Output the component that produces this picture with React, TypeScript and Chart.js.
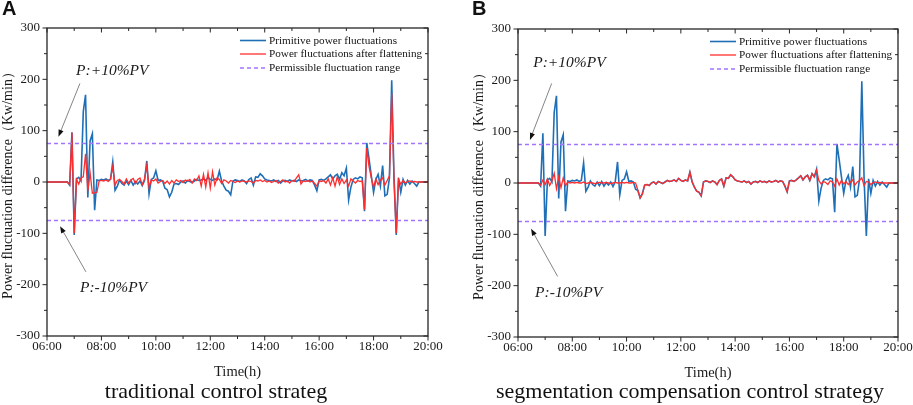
import { useEffect, useRef } from 'react';
import { Chart, registerables } from 'chart.js';

Chart.register(...registerables);

const SERIF = '"Liberation Serif", "Times New Roman", serif';
const SANS = '"Liberation Sans", Arial, sans-serif';
const AXIS = '#262626';
const BLUE = '#1f6fb6';
const RED = '#ff2d2d';
const VIOLET = '#a273ff';

// one sample every 5 min, 06:00 .. 20:00 (12 values per row = one hour)
const START_HOUR = 6;
const STEP_MIN = 5;

// primitive power fluctuation (Kw/min) - same in both panels
const primitive = [
  0, 0, 0, 0, 0, 0, 0, 0, 0, 0, -6, 97,
  -103, 6, 9, 2, 137, 170, -30, 80, 94, -55, 4, 3,
  5, 4, 6, 3, 5, 39, -16, -8, 4, -3, -6, 2,
  -5, 3, -6, 1, -4, 2, -7, 3, 41, -23, 5, 8,
  22, 3, 4, 2, -12, -15, -29, -20, -4, -3, -5, 0,
  2, -2, 3, 1, -1, 2, 5, 3, 4, 6, 3, 9,
  5, 3, 6, 4, 21, 2, -8, -16, -18, -25, 2, 4,
  3, 1, 4, 2, -3, 5, 8, -6, 10, 9, 16, 12,
  6, 4, 3, 2, 4, 1, 3, -2, 2, 3, 1, 4,
  2, 3, 1, 4, 2, 3, 5, 2, 4, 3, -6, -17,
  4, 5, 3, 6, 10, 14, 6, 12, 15, 5, 18, 12,
  27, -35, -10, 5, 8, 6, 10, 8, -57, 76, 45, 12,
  -20, 5, 15, -8, 32, -27, -24, 8, 198, 10, -103, 8,
  -20, 5, -6, 3, -4, 2, -3, -8, 0, 0, 0, 0,
  0,
];

// after flattening, traditional control strategy
const flatTraditional = [
  0, 0, 0, 0, 0, 0, 0, 0, 0, 0, -5, 96,
  -100, 5, -4, 8, 10, 55, -18, 18, -22, -21, -20, 2,
  3, 2, 4, 1, 6, 30, -6, 3, 5, 1, -4, 6,
  -2, 4, 7, -3, 5, 8, -5, 6, 32, -10, 4, 2,
  6, -2, 1, 3, -3, 2, -4, 3, -2, 4, 1, 3,
  -1, 4, 2, 5, -2, 6, 3, 12, -8, 15, -10, 18,
  -12, 20, -6, 8, 5, -3, 4, 2, -2, 3, 1, -1,
  2, 0, 2, 1, 0, 2, 1, -2, 3, 2, 4, 1,
  3, 0, 2, -1, 1, 3, -2, 1, 4, 0, 2, -2,
  3, 1, 8, 14, -4, 2, 1, 3, 0, 2, -3, -8,
  2, 1, 3, -2, 6, -6, 8, -8, 10, -5, 6, -3,
  4, -8, 6, 2, -2, 3, 1, 2, -54, 66, 30, 8,
  -10, 6, -5, 4, 8, -6, 3, 12, 172, 5, -100, 5,
  -4, 3, -2, 1, 2, 0, 1, 0, 0, 0, 0, 0,
  0,
];

// after flattening, segmentation compensation control strategy
const flatSegmented = [
  0, 0, 0, 0, 0, 0, 0, 0, 0, 0, -4, 6,
  -3, 8, -5, 4, 19, -11, 12, -9, 10, -5, 2, 0,
  1, 0, 1, 0, 0, 2, -1, 0, 1, 0, -1, 0,
  1, 0, 0, 1, 0, -1, 0, 1, 0, 0, 1, 0,
  1, 0, 0, 1, 0, -14, -29, -22, -4, -3, -5, 0,
  2, -2, 3, 1, -1, 2, 5, 3, 4, 6, 3, 9,
  5, 3, 6, 4, 21, 2, -8, -16, -18, -25, 2, 4,
  3, 1, 4, 2, -3, 5, 8, -6, 10, 9, 16, 12,
  6, 4, 3, 2, 4, 1, 3, -2, 2, 3, 1, 4,
  2, 3, 1, 4, 2, 3, 5, 2, 4, 3, -6, -17,
  4, 5, 3, 6, 10, 14, 6, 12, 15, 5, 18, 12,
  25, 5, -2, 3, 1, -3, 4, 2, -6, 8, -4, 5,
  -2, 3, -3, 2, 6, -4, 2, 5, 10, -5, 3, 2,
  -3, 1, 2, 0, 1, 0, 0, 0, 0, 0, 0, 0,
  0,
];

const LIMIT = 75; // +-10% PV
const X_MIN = 6;
const X_MAX = 20;
const Y_MIN = -300;
const Y_MAX = 300;
const legendLabels = [
  'Primitive power fluctuations',
  'Power fluctuations after flattening',
  'Permissible fluctuation range',
];

const times = primitive.map((_, i) => START_HOUR + (i * STEP_MIN) / 60);
const toPoints = (vals: number[]) => vals.map((y, i) => ({ x: times[i], y }));
const hourLabel = (v: number) => `${String(v).padStart(2, '0')}:00`;

type Note = { text: string; at: [number, number]; from: [number, number]; to: [number, number] };

const notesA: Note[] = [
  { text: 'P:+10%PV', at: [7.07, 208], from: [7.21, 192], to: [6.42, 88] },
  { text: 'P:-10%PV', at: [7.21, -214], from: [7.43, -175], to: [6.48, -86] },
];
const notesB: Note[] = [
  { text: 'P:+10%PV', at: [6.56, 226], from: [7.24, 194], to: [6.44, 84] },
  { text: 'P:-10%PV', at: [6.63, -222], from: [7.46, -182], to: [6.48, -89] },
];

const decor = {
  id: 'decor',
  afterDraw(chart: any, _args: any, opts: any) {
    const { ctx, chartArea: a, scales } = chart;
    const xs = scales.x;
    const ys = scales.y;
    ctx.save();

    // frame + ticks (out on left/bottom, in on top/right)
    ctx.strokeStyle = AXIS;
    ctx.lineWidth = 1.3;
    ctx.strokeRect(a.left, a.top, a.right - a.left, a.bottom - a.top);
    ctx.lineWidth = 1;
    ctx.beginPath();
    for (let h = X_MIN; h <= X_MAX; h++) {
      const px = xs.getPixelForValue(h);
      const len = h % 2 === 0 ? 4.5 : 3;
      ctx.moveTo(px, a.bottom);
      ctx.lineTo(px, a.bottom + len);
      ctx.moveTo(px, a.top);
      ctx.lineTo(px, a.top + len);
    }
    for (let v = Y_MIN; v <= Y_MAX; v += 50) {
      const py = ys.getPixelForValue(v);
      const len = v % 100 === 0 ? 4.5 : 3;
      ctx.moveTo(a.left, py);
      ctx.lineTo(a.left - len, py);
      ctx.moveTo(a.right, py);
      ctx.lineTo(a.right - len, py);
    }
    ctx.stroke();

    // legend
    const lx = a.right - 188;
    const rows = [12.5, 26, 40];
    const styles = [
      { color: BLUE, width: 1.6, dash: [] as number[] },
      { color: RED, width: 1.3, dash: [] as number[] },
      { color: VIOLET, width: 1.3, dash: [4, 3] },
    ];
    ctx.font = `11.2px ${SERIF}`;
    ctx.textBaseline = 'middle';
    ctx.textAlign = 'left';
    rows.forEach((r, i) => {
      const y = a.top + r;
      ctx.strokeStyle = styles[i].color;
      ctx.lineWidth = styles[i].width;
      ctx.setLineDash(styles[i].dash);
      ctx.beginPath();
      ctx.moveTo(lx, y);
      ctx.lineTo(lx + 26, y);
      ctx.stroke();
      ctx.setLineDash([]);
      ctx.fillStyle = '#111';
      ctx.fillText(legendLabels[i], lx + 29, y + 0.5);
    });

    // P:±10%PV notes with arrows
    (opts.notes as Note[]).forEach((n) => {
      const x1 = xs.getPixelForValue(n.from[0]);
      const y1 = ys.getPixelForValue(n.from[1]);
      const x2 = xs.getPixelForValue(n.to[0]);
      const y2 = ys.getPixelForValue(n.to[1]);
      const ang = Math.atan2(y2 - y1, x2 - x1);
      ctx.strokeStyle = '#666';
      ctx.lineWidth = 0.8;
      ctx.beginPath();
      ctx.moveTo(x1, y1);
      ctx.lineTo(x2 - 5 * Math.cos(ang), y2 - 5 * Math.sin(ang));
      ctx.stroke();
      ctx.fillStyle = '#111';
      ctx.beginPath();
      ctx.moveTo(x2, y2);
      ctx.lineTo(x2 - 7 * Math.cos(ang) + 2.6 * Math.sin(ang), y2 - 7 * Math.sin(ang) - 2.6 * Math.cos(ang));
      ctx.lineTo(x2 - 7 * Math.cos(ang) - 2.6 * Math.sin(ang), y2 - 7 * Math.sin(ang) + 2.6 * Math.cos(ang));
      ctx.closePath();
      ctx.fill();

      ctx.font = `italic 15.5px ${SERIF}`;
      ctx.textBaseline = 'alphabetic';
      ctx.fillStyle = '#1a1a1a';
      ctx.fillText(n.text, xs.getPixelForValue(n.at[0]), ys.getPixelForValue(n.at[1]));
    });

    ctx.restore();
  },
};

type PanelProps = {
  left: number;
  width: number;
  letter: string;
  letterX: number;
  caption: string;
  captionX: number;
  flat: number[];
  notes: Note[];
  pad: { left: number; right: number; top: number; bottom: number };
};

function Panel({ left, width, letter, letterX, caption, captionX, flat, notes, pad }: PanelProps) {
  const canvasRef = useRef<HTMLCanvasElement>(null);
  const chartRef = useRef<Chart | null>(null);

  useEffect(() => {
    if (!canvasRef.current) return;
    const limitLine = (y: number) => [{ x: X_MIN, y }, { x: X_MAX, y }];
    chartRef.current = new Chart(canvasRef.current, {
      type: 'line',
      data: {
        datasets: [
          { label: legendLabels[2], data: limitLine(LIMIT), borderColor: VIOLET, borderWidth: 1.3, borderDash: [4, 3], order: 0 },
          { label: legendLabels[2], data: limitLine(-LIMIT), borderColor: VIOLET, borderWidth: 1.3, borderDash: [4, 3], order: 0 },
          { label: legendLabels[1], data: toPoints(flat), borderColor: RED, borderWidth: 1.3, order: 1 },
          { label: legendLabels[0], data: toPoints(primitive), borderColor: BLUE, borderWidth: 1.6, order: 2 },
        ],
      },
      options: {
        animation: false,
        responsive: true,
        maintainAspectRatio: false,
        layout: { padding: pad },
        elements: { point: { radius: 0 }, line: { tension: 0 } },
        plugins: {
          legend: { display: false },
          tooltip: { enabled: false },
          decor: { notes },
        } as any,
        scales: {
          x: {
            type: 'linear',
            min: X_MIN,
            max: X_MAX,
            ticks: {
              stepSize: 2,
              callback: (v: any) => hourLabel(Number(v)),
              font: { family: SERIF, size: 13 },
              color: '#1a1a1a',
              padding: 1,
              maxRotation: 0,
              autoSkip: false,
            },
            grid: { drawOnChartArea: false, drawTicks: true, tickLength: 2, color: 'rgba(0,0,0,0)' },
            border: { display: false },
            title: { display: true, text: 'Time(h)', font: { family: SERIF, size: 14.5 }, color: '#1a1a1a', padding: 0 },
            afterFit: (s: any) => {
              s.height = 45;
              s.paddingLeft = 0;
              s.paddingRight = 0;
            },
          },
          y: {
            min: Y_MIN,
            max: Y_MAX,
            ticks: { stepSize: 100, font: { family: SERIF, size: 13 }, color: '#1a1a1a', padding: 3 },
            grid: { drawOnChartArea: false, drawTicks: true, tickLength: 4, color: 'rgba(0,0,0,0)' },
            border: { display: false },
            title: {
              display: true,
              text: 'Power fluctuation difference（Kw/min）',
              font: { family: SERIF, size: 14 },
              color: '#1a1a1a',
              padding: 0,
            },
            afterFit: (s: any) => {
              s.width = 47;
            },
          },
        },
      },
      plugins: [decor],
    });
    return () => {
      chartRef.current?.destroy();
      chartRef.current = null;
    };
  }, []);

  return (
    <div style={{ position: 'absolute', left, top: 0, width, height: 405 }}>
      <div style={{ position: 'absolute', left: 0, top: 0, width, height: 405 }}>
        <canvas ref={canvasRef} />
      </div>
      <div
        style={{
          position: 'absolute', left: letterX, top: -2, fontFamily: SANS, fontWeight: 'bold',
          fontSize: 20, lineHeight: '20px', color: '#111',
        }}
      >
        {letter}
      </div>
      <div
        style={{
          position: 'absolute', left: captionX - 220, width: 440, top: 380, textAlign: 'center',
          fontFamily: SERIF, fontSize: 22, lineHeight: '22px', color: '#111', whiteSpace: 'nowrap',
        }}
      >
        {caption}
      </div>
    </div>
  );
}

export default function App() {
  return (
    <div style={{ position: 'fixed', left: 0, top: 0, width: 913, height: 405, background: '#fff', overflow: 'hidden' }}>
      <Panel
        left={0}
        width={456}
        letter="A"
        letterX={2}
        caption="traditional control strateg"
        captionX={216}
        flat={flatTraditional}
        notes={notesA}
        pad={{ left: 0, right: 28, top: 28, bottom: 24 }}
      />
      <Panel
        left={456}
        width={457}
        letter="B"
        letterX={16}
        caption="segmentation compensation control strategy"
        captionX={234}
        flat={flatSegmented}
        notes={notesB}
        pad={{ left: 15, right: 15, top: 29, bottom: 23 }}
      />
    </div>
  );
}
